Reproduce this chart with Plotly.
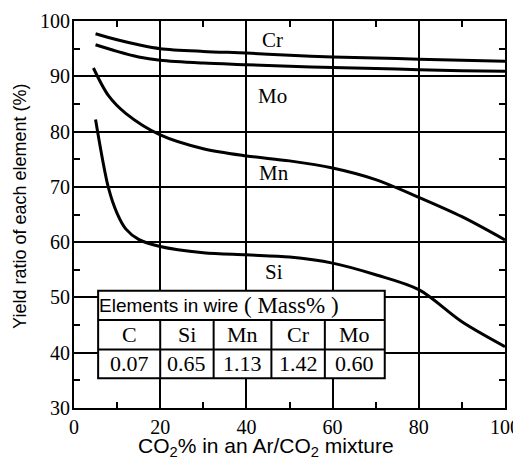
import plotly.graph_objects as go

# ---- data ----
cr_x = [5, 10, 15, 20, 30, 40, 50, 60, 70, 80, 90, 100]
cr_y = [97.7, 96.6, 95.7, 95.0, 94.5, 94.2, 93.8, 93.5, 93.3, 93.1, 92.9, 92.7]

mo_x = [5, 10, 15, 20, 30, 40, 50, 60, 70, 80, 90, 100]
mo_y = [95.7, 94.5, 93.5, 92.9, 92.4, 92.1, 91.8, 91.6, 91.4, 91.2, 91.0, 90.9]

mn_x = [4.5, 8, 12, 20, 30, 40, 50, 60, 70, 80, 90, 100]
mn_y = [91.5, 86.5, 83.3, 79.4, 76.9, 75.6, 74.7, 73.4, 71.3, 68.1, 64.6, 60.4]

si_x = [5, 8, 10, 12, 15, 20, 30, 40, 50, 60, 70, 80, 90, 100]
si_y = [82.2, 69.8, 65.2, 62.4, 60.5, 59.2, 58.1, 57.7, 57.3, 56.2, 54.1, 51.4, 45.6, 41.1]

series_names = ["Cr", "Mo", "Mn", "Si"]
label_x = [46, 46, 46.5, 46.5]
label_y = [96.6, 86.4, 72.5, 54.6]

table_title = "Elements in wire"
table_unit = "( Mass% )"
table_elements = ["C", "Si", "Mn", "Cr", "Mo"]
table_values = ["0.07", "0.65", "1.13", "1.42", "0.60"]

SERIF = "Liberation Serif"
SANS = "Liberation Sans"

fig = go.Figure()
for xs, ys, nm in zip([cr_x, mo_x, mn_x, si_x], [cr_y, mo_y, mn_y, si_y], series_names):
    fig.add_trace(go.Scatter(x=xs, y=ys, mode="lines", name=nm,
                             line=dict(color="black", width=3, shape="spline", smoothing=0.9),
                             showlegend=False, hoverinfo="skip"))

annotations = []
for nm, lx, ly in zip(series_names, label_x, label_y):
    annotations.append(dict(x=lx, y=ly, xref="x", yref="y", text=nm, showarrow=False,
                            xanchor="center", yanchor="middle",
                            font=dict(family=SERIF, size=21, color="black")))

# ---- table (layout constants in data units) ----
col_edges = [5.6, 20.0, 32.4, 45.8, 58.2, 72.1]
row_edges = [51.2, 45.9, 40.6, 35.4]
shapes = [dict(type="rect", xref="x", yref="y", x0=col_edges[0], x1=col_edges[-1],
               y0=row_edges[-1], y1=row_edges[0], fillcolor="white",
               line=dict(color="black", width=2), layer="above")]
for ry in row_edges[1:-1]:
    shapes.append(dict(type="line", xref="x", yref="y", x0=col_edges[0], x1=col_edges[-1],
                       y0=ry, y1=ry, line=dict(color="black", width=2), layer="above"))
for cx in col_edges[1:-1]:
    shapes.append(dict(type="line", xref="x", yref="y", x0=cx, x1=cx,
                       y0=row_edges[-1], y1=row_edges[1], line=dict(color="black", width=2),
                       layer="above"))

head_y = (row_edges[0] + row_edges[1]) / 2
annotations.append(dict(x=col_edges[0] - 0.3, y=head_y, xref="x", yref="y",
                        text=table_title, showarrow=False, xanchor="left", yanchor="middle",
                        font=dict(family=SANS, size=19, color="black")))
annotations.append(dict(x=39.0, y=head_y, xref="x", yref="y",
                        text=table_unit, showarrow=False, xanchor="left", yanchor="middle",
                        font=dict(family=SERIF, size=23, color="black")))
for i, (el, val) in enumerate(zip(table_elements, table_values)):
    cx = (col_edges[i] + col_edges[i + 1]) / 2
    annotations.append(dict(x=cx, y=(row_edges[1] + row_edges[2]) / 2, xref="x", yref="y",
                            text=el, showarrow=False, xanchor="center", yanchor="middle",
                            font=dict(family=SERIF, size=22, color="black")))
    annotations.append(dict(x=cx, y=(row_edges[2] + row_edges[3]) / 2, xref="x", yref="y",
                            text=val, showarrow=False, xanchor="center", yanchor="middle",
                            font=dict(family=SERIF, size=22, color="black")))

# axis titles
annotations.append(dict(x=0.4455, y=-0.102, xref="paper", yref="paper",
                        xanchor="center", yanchor="middle", borderpad=0,
                        text="CO<sub>2</sub>% in an Ar/CO<sub>2</sub> mixture", showarrow=False,
                        font=dict(family=SANS, size=21, color="black")))
annotations.append(dict(x=-0.125, y=0.52, xref="paper", yref="paper", textangle=-90,
                        xanchor="center", yanchor="middle",
                        text="Yield ratio of each element (%)", showarrow=False,
                        font=dict(family=SANS, size=18, color="black")))

axis_common = dict(showline=True, linecolor="black", linewidth=2, mirror="allticks",
                   showgrid=True, gridcolor="black", gridwidth=1.6, zeroline=False,
                   ticks="inside", ticklen=6, tickwidth=1.6, tickcolor="black",
                   automargin=False,
                   tickfont=dict(family=SERIF, size=20, color="black"))

# the page body adds an 8 px offset, so the figure is sized/margined to compensate
fig.update_layout(
    width=513, height=452,
    margin=dict(l=66, r=16, t=13, b=52),
    paper_bgcolor="white", plot_bgcolor="white",
    xaxis=dict(range=[0, 100], tick0=0, dtick=20,
               minor=dict(ticks="inside", ticklen=6, tickwidth=1.5, dtick=10, tick0=0,
                          tickcolor="black", showgrid=False),
               **axis_common),
    yaxis=dict(range=[30, 100], tick0=0, dtick=10, ticklabelstandoff=-2,
               minor=dict(ticks="inside", ticklen=6, tickwidth=1.5, dtick=5, tick0=0,
                          tickcolor="black", showgrid=False),
               **axis_common),
    shapes=shapes,
    annotations=annotations,
)

fig.write_html("out.html")
